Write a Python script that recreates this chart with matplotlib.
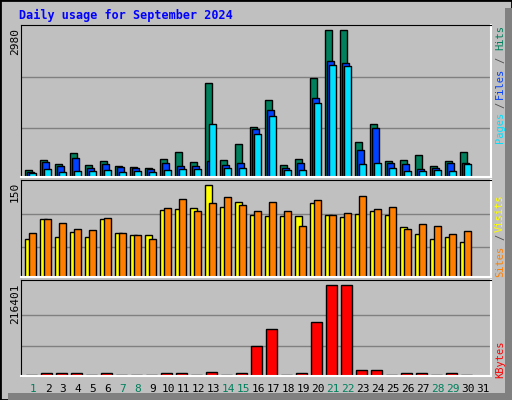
import matplotlib
matplotlib.use('Agg')
import matplotlib.pyplot as plt
from matplotlib.patches import Rectangle
import numpy as np

days = list(range(1, 32))
weekend = [1, 7, 8, 14, 15, 21, 22, 28, 29]

hits = [142, 345, 264, 487, 243, 324, 223, 203, 182, 365, 507, 304, 1906, 345, 669,
        1014, 1561, 243, 365, 2007, 2980, 2980, 710, 1074, 324, 345, 446, 223, 324, 507]
files = [108, 304, 223, 385, 182, 264, 203, 182, 162, 284, 223, 223, 324, 243, 284,
         973, 1358, 182, 284, 1601, 2351, 2311, 547, 993, 284, 264, 162, 182, 284, 284]
pages = [81, 162, 101, 122, 122, 142, 101, 122, 101, 142, 162, 162, 1074, 182, 182,
         872, 1237, 142, 142, 1500, 2270, 2250, 264, 284, 182, 122, 122, 142, 122, 264]
visits = [62, 95, 65, 73, 65, 95, 72, 68, 68, 109, 111, 112, 150, 114, 122,
          101, 99, 99, 99, 121, 101, 98, 103, 108, 101, 82, 70, 62, 65, 57]
sites = [72, 95, 88, 78, 77, 96, 72, 68, 62, 112, 127, 108, 121, 130, 117,
         108, 122, 108, 83, 126, 101, 104, 132, 111, 114, 78, 86, 83, 70, 75]
kbytes = [3000, 6000, 6000, 6000, 3000, 6000, 3000, 3000, 3000, 6000, 6000, 3000, 10500, 3000, 6000,
          71340, 111760, 3000, 6000, 128400, 216401, 216401, 14270, 14270, 3000, 6000, 6000, 3000, 6000, 3000]

bg = '#C0C0C0'
c_hits, c_files, c_pages = '#00805C', '#0040FF', '#00E0FF'
c_visits, c_sites, c_kb = '#FFFF00', '#FF8000', '#FF0000'
mono = 'DejaVu Sans Mono'

fig = plt.figure(figsize=(5.12, 4.0), dpi=100)
fig.patch.set_facecolor(bg)
W, H = 512, 400

# outer bevel frame
fig.patches.append(Rectangle((0, 0), 1, 1, transform=fig.transFigure, fill=False,
                             edgecolor='black', lw=2))
fig.patches.append(Rectangle((505 / W, 0), 7 / W, 1 - 8 / H, transform=fig.transFigure,
                             facecolor='#808080', edgecolor='none'))
fig.patches.append(Rectangle((8 / W, 0), 1 - 8 / W, 7 / H, transform=fig.transFigure,
                             facecolor='#808080', edgecolor='none'))


def panel(top, bottom):
    ax = fig.add_axes([21 / W, 1 - bottom / H, 470 / W, (bottom - top) / H])
    ax.set_facecolor(bg)
    ax.set_xlim(0, 470 / 15)
    ax.set_xticks([])
    ax.set_yticks([])
    for s in ['top', 'left']:
        ax.spines[s].set_color('black')
    for s in ['bottom', 'right']:
        ax.spines[s].set_color('white')
        ax.spines[s].set_linewidth(1.5)
    return ax


x = np.arange(30)
kw = dict(align='edge', edgecolor='black', linewidth=1)

# hits / files / pages
ax1 = panel(25, 177)
ax1.set_ylim(0, 2980 * 152 / 147)
for f in [0.333, 0.68]:
    ax1.axhline(2980 * f, color='#808080', lw=1, zorder=0)
ax1.bar(x + 4 / 15, hits, 7 / 15, color=c_hits, **kw)
ax1.bar(x + 6 / 15, files, 7 / 15, color=c_files, **kw)
ax1.bar(x + 8 / 15, pages, 7 / 15, color=c_pages, **kw)

# visits / sites
ax2 = panel(180, 277)
ax2.set_ylim(0, 150 * 97 / 92)
for f in [0.326, 0.685]:
    ax2.axhline(150 * f, color='#808080', lw=1, zorder=0)
ax2.bar(x + 4 / 15, visits, 7 / 15, color=c_visits, **kw)
ax2.bar(x + 8 / 15, sites, 7 / 15, color=c_sites, **kw)

# kbytes
ax3 = panel(280, 376)
ax3.set_ylim(0, 216401 * 96 / 91)
for f in [0.33, 0.67]:
    ax3.axhline(216401 * f, color='#808080', lw=1, zorder=0)
ax3.bar(x + 5 / 15, kbytes, 11 / 15, color=c_kb, **kw)

fig.text(19 / W, 1 - 15 / H, 'Daily usage for September 2024', color='#0000FF',
         family=mono, fontweight='bold', fontsize=8.5, va='center')

for label, ytop in [('2980', 28), ('150', 182), ('216401', 283)]:
    fig.text(15 / W, 1 - ytop / H, label, rotation=90, family=mono, fontsize=8,
             ha='center', va='top')

for txt, yc, col in [('Hits', 37, c_hits), ('/', 60, '#505050'), ('Files', 83, c_files),
                     ('/', 105, '#505050'), ('Pages', 127, c_pages),
                     ('Visits', 213, c_visits), ('/', 237, '#505050'), ('Sites', 261, c_sites),
                     ('KBytes', 359, c_kb)]:
    fig.text(500 / W, 1 - yc / H, txt, rotation=90, family=mono, fontsize=7.5,
             color=col, ha='center', va='center')

for d in days:
    col = '#00805C' if d in weekend else 'black'
    fig.text((21 + (d - 1) * 15 + 12) / W, 1 - 389 / H, str(d), family=mono, fontsize=8,
             color=col, ha='center', va='center')

fig.savefig('out.png', dpi=100, facecolor=bg)
